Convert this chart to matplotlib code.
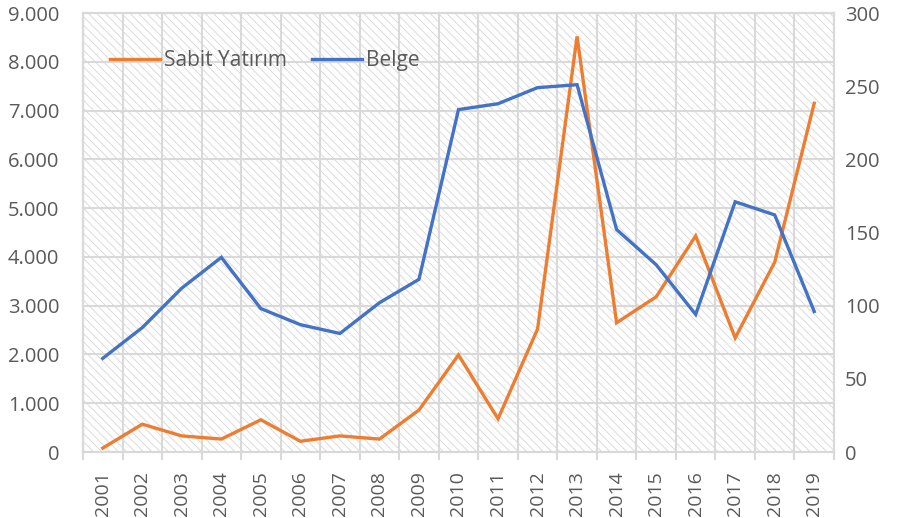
import matplotlib
matplotlib.use("Agg")
import matplotlib.pyplot as plt
from matplotlib.patches import Rectangle
from matplotlib.ticker import FixedLocator, FuncFormatter

years = ["2001", "2002", "2003", "2004", "2005", "2006", "2007", "2008", "2009", "2010",
         "2011", "2012", "2013", "2014", "2015", "2016", "2017", "2018", "2019"]
sabit_yatirim = [80, 570, 330, 265, 660, 220, 330, 265, 860, 1990,
                 680, 2520, 8520, 2650, 3180, 4430, 2340, 3890, 7150]
belge = [64, 85, 112, 133, 98, 87, 81, 102, 118, 234,
         238, 249, 251, 152, 128, 94, 171, 162, 96]

left_ticks = list(range(0, 9001, 1000))
right_ticks = list(range(0, 301, 50))

plt.rcParams['font.family'] = ['Open Sans', 'DejaVu Sans']
plt.rcParams['hatch.linewidth'] = 0.6
txt = '#595959'
grid_c = '#d9d9d9'

fig = plt.figure(figsize=(8.98, 5.18), dpi=100)
ax = fig.add_axes([83/898, 1-452/518, (834-83)/898, (452-13)/518])
ax2 = ax.twinx()

x = list(range(len(years)))

# hatched background
bg = Rectangle((0, 0), 1, 1, transform=ax.transAxes, facecolor='white',
               edgecolor='#d6d6d6', hatch='\\\\\\\\', lw=0, zorder=0)
ax.add_patch(bg)

l1, = ax.plot(x, sabit_yatirim, color='#ED7D31', lw=2.4, zorder=3,
              solid_joinstyle='miter', label='Sabit Yatırım')
l2, = ax2.plot(x, belge, color='#4472C4', lw=2.4, zorder=3,
               solid_joinstyle='miter', label='Belge')

ax.set_xlim(-0.5, len(years) - 0.5)
ax.set_ylim(0, 9000)
ax2.set_ylim(0, 300)

ax.set_yticks(left_ticks)
ax.yaxis.set_major_formatter(FuncFormatter(lambda v, p: f"{int(v):,}".replace(',', '.')))
ax2.set_yticks(right_ticks)

ax.set_xticks(x)
ax.set_xticklabels(years, rotation=90)
ax.xaxis.set_minor_locator(FixedLocator([i - 0.5 for i in range(len(years) + 1)]))

ax.tick_params(axis='x', which='major', length=0, pad=14, labelsize=14, labelcolor=txt)
ax.tick_params(axis='x', which='minor', length=6, color=grid_c, width=1.5)
ax.tick_params(axis='y', length=0, pad=17, labelsize=14.5, labelcolor=txt)
ax2.tick_params(axis='y', length=0, pad=8, labelsize=14.5, labelcolor=txt)

ax.grid(True, axis='y', which='major', color=grid_c, lw=1.5, zorder=1)
ax.grid(True, axis='x', which='minor', color=grid_c, lw=1.5, zorder=1)
ax.set_axisbelow(True)

for a in (ax, ax2):
    for s in a.spines.values():
        s.set_color(grid_c)
        s.set_linewidth(1.5)
ax2.patch.set_visible(False)

leg1 = ax2.legend(handles=[l1], loc='center left', bbox_to_anchor=(0.036, 1 - 0.109),
                  frameon=False, borderpad=0, borderaxespad=0,
                  handlelength=2.4, handletextpad=0.2,
                  fontsize=15, labelcolor=txt)
ax2.add_artist(leg1)
leg2 = ax2.legend(handles=[l2], loc='center left', bbox_to_anchor=((312-83)/751, 1 - 0.109),
                  frameon=False, borderpad=0, borderaxespad=0,
                  handlelength=2.4, handletextpad=0.2,
                  fontsize=15, labelcolor=txt)

fig.savefig('out.png', dpi=100)
